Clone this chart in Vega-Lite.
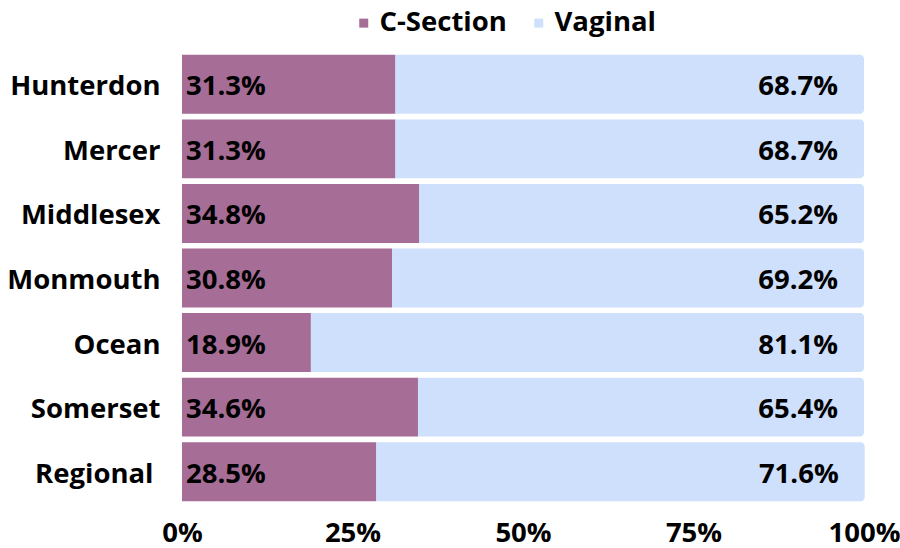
{
  "$schema": "https://vega.github.io/schema/vega-lite/v6.json",
  "width": 682,
  "height": 452,
  "autosize": {"type": "none"},
  "padding": {"left": 182, "top": 52, "right": 36, "bottom": 44},
  "background": "white",
  "config": {
    "font": "Open Sans",
    "view": {"stroke": null},
    "legend": {
      "orient": "none",
      "legendX": 168,
      "legendY": -43,
      "direction": "horizontal",
      "padding": 0,
      "labelFont": "Open Sans",
      "labelFontWeight": "bold",
      "labelFontSize": 27.5,
      "labelColor": "#000000",
      "symbolType": "square",
      "symbolSize": 81,
      "symbolOpacity": 1,
      "symbolStrokeWidth": 0,
      "columnPadding": 18,
      "labelOffset": 2
    }
  },
  "data": {
    "values": [
      {"region": "Hunterdon", "type": "C-Section", "order": 1, "value": 0.313},
      {"region": "Hunterdon", "type": "Vaginal", "order": 2, "value": 0.687},
      {"region": "Mercer", "type": "C-Section", "order": 1, "value": 0.313},
      {"region": "Mercer", "type": "Vaginal", "order": 2, "value": 0.687},
      {"region": "Middlesex", "type": "C-Section", "order": 1, "value": 0.348},
      {"region": "Middlesex", "type": "Vaginal", "order": 2, "value": 0.652},
      {"region": "Monmouth", "type": "C-Section", "order": 1, "value": 0.308},
      {"region": "Monmouth", "type": "Vaginal", "order": 2, "value": 0.692},
      {"region": "Ocean", "type": "C-Section", "order": 1, "value": 0.189},
      {"region": "Ocean", "type": "Vaginal", "order": 2, "value": 0.811},
      {"region": "Somerset", "type": "C-Section", "order": 1, "value": 0.346},
      {"region": "Somerset", "type": "Vaginal", "order": 2, "value": 0.654},
      {"region": "Regional", "type": "C-Section", "order": 1, "value": 0.285},
      {"region": "Regional", "type": "Vaginal", "order": 2, "value": 0.716}
    ]
  },
  "transform": [
    {"stack": "value", "groupby": ["region"], "sort": [{"field": "order", "order": "ascending"}], "as": ["v0", "v1"]}
  ],
  "encoding": {
    "y": {
      "field": "region",
      "type": "nominal",
      "sort": ["Hunterdon", "Mercer", "Middlesex", "Monmouth", "Ocean", "Somerset", "Regional"],
      "scale": {"paddingInner": 0.087, "paddingOuter": 0.0435},
      "axis": {
        "title": null,
        "ticks": false,
        "domain": false,
        "grid": false,
        "labelPadding": {"condition": {"test": "datum.value === 'Regional'", "value": 29}, "value": 22},
        "labelOffset": 3,
        "labelFont": "Open Sans",
        "labelFontWeight": "bold",
        "labelFontSize": 27.5,
        "labelColor": "#000000",
        "labelLimit": 300
      }
    }
  },
  "layer": [
    {
      "transform": [{"filter": "datum.type === 'C-Section'"}],
      "mark": {"type": "bar"},
      "encoding": {
        "x": {
          "field": "v0",
          "type": "quantitative",
          "scale": {"domain": [0, 1], "nice": false},
          "axis": {
            "title": null,
            "format": "%",
            "values": [0, 0.25, 0.5, 0.75, 1],
            "ticks": false,
            "domain": false,
            "grid": false,
            "labelPadding": 15,
            "labelFont": "Open Sans",
            "labelFontWeight": "bold",
            "labelFontSize": 27.5,
            "labelColor": "#000000",
            "labelFlush": false,
            "labelOverlap": false
          }
        },
        "x2": {"field": "v1"},
        "color": {
          "field": "type",
          "type": "nominal",
          "scale": {"domain": ["C-Section", "Vaginal"], "range": ["#a66d96", "#cfe0fd"]},
          "legend": {"title": null}
        }
      }
    },
    {
      "transform": [{"filter": "datum.type === 'Vaginal'"}],
      "mark": {"type": "bar", "cornerRadiusTopRight": 4, "cornerRadiusBottomRight": 4},
      "encoding": {
        "x": {"field": "v0", "type": "quantitative"},
        "x2": {"field": "v1"},
        "color": {"field": "type", "type": "nominal"}
      }
    },
    {
      "transform": [{"filter": "datum.type === 'C-Section'"}],
      "mark": {"type": "text", "align": "left", "baseline": "middle", "dx": 4, "dy": 3, "font": "Open Sans", "fontWeight": "bold", "fontSize": 27.5, "color": "#000000"},
      "encoding": {
        "x": {"field": "v0", "type": "quantitative"},
        "text": {"field": "value", "type": "quantitative", "format": ".1%"}
      }
    },
    {
      "transform": [{"filter": "datum.type === 'Vaginal'"}],
      "mark": {"type": "text", "align": "right", "baseline": "middle", "dx": -26, "dy": 3, "font": "Open Sans", "fontWeight": "bold", "fontSize": 27.5, "color": "#000000"},
      "encoding": {
        "x": {"field": "v1", "type": "quantitative"},
        "text": {"field": "value", "type": "quantitative", "format": ".1%"}
      }
    }
  ]
}
